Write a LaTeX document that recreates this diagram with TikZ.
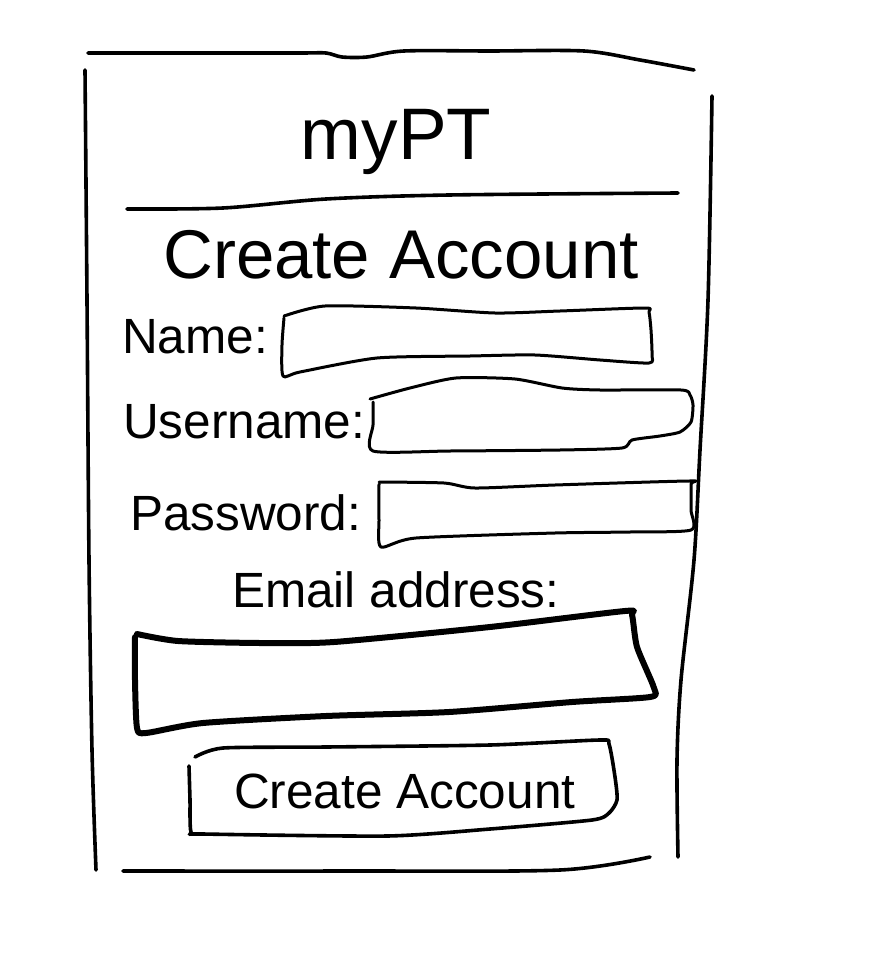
\documentclass[tikz,border=0pt]{standalone}
\usepackage{fontspec}
\setmainfont{Liberation Sans}
\begin{document}
\begin{tikzpicture}[x=1pt,y=-1pt,
  ink/.style={draw=black,line cap=round,line join=round},
  framel/.style={ink,line width=3.6pt},
  fieldl/.style={ink,line width=3pt},
  thickl/.style={ink,line width=6pt},
  btnl/.style={ink,line width=3.6pt},
  lbl/.style={anchor=base west,inner sep=0pt,font=\fontsize{49.5}{52}\selectfont},
  ttl/.style={anchor=base,inner sep=0pt}]
\useasboundingbox (0,0) rectangle (888,976);
% outer frame
\draw[framel] plot[smooth,tension=0.5] coordinates {(88,53) (200,53) (300,53) (326,53) (342,57) (367,57) (404,51) (490,51) (584,51) (640,60) (694,70)};
\draw[framel] plot[smooth,tension=0.5] coordinates {(85,70) (87,300) (89,560) (92,750) (96,870)};
\draw[framel] plot[smooth,tension=0.5] coordinates {(712,96) (708,300) (700,450) (694,560) (681,680) (677,760) (678,857)};
\draw[framel] plot[smooth,tension=0.5] coordinates {(123,871) (350,871) (560,870) (650,857)};
% divider
\draw[framel] plot[smooth,tension=0.5] coordinates {(127,209) (223,208) (326,199) (449,195) (678,193)};
% titles
\node[ttl,font=\fontsize{73}{76}\selectfont] (app) at (396,160) {myPT};
\node[ttl,font=\fontsize{69}{72}\selectfont] (title) at (401,278) {Create Account};
% labels
\node[lbl] (name) at (122,353) {Name:};
\node[lbl] (user) at (123,438) {Username:};
\node[lbl] (pass) at (130,530) {Password:};
\node[lbl] (mail) at (232,607) {Email address:};
% name field
\draw[fieldl] plot[smooth,tension=0.4] coordinates {(284,318) (282,345) (283,376) (300,372) (377,358) (470,356) (535,355) (600,360) (649,363) (652,355) (651,330) (649,312) (645,308) (560,311) (495,313) (416,308) (325,306) (284,316)};
% username field
\draw[fieldl] plot[smooth,tension=0.4] coordinates {(370,399) (410,388) (456,378) (515,379) (562,388) (600,390) (681,390) (690,395) (693,405) (691,422) (680,432) (660,436) (632,440) (622,448) (560,450) (450,451) (373,451) (373,425) (373,402)};
% password field
\draw[fieldl] plot[smooth,tension=0.4] coordinates {(379,482) (444,483) (475,488) (555,485) (689,481) (691,484) (691,510) (691,530) (630,532) (555,533) (416,538) (381,547) (379,520) (379,484)};
% email field
\draw[thickl] plot[smooth,tension=0.4] coordinates {(137,634) (178,641) (260,643) (334,642) (490,627) (625,611) (632,615) (637,647) (654,688) (650,697) (572,702) (449,712) (326,716) (203,723) (146,733) (137,728) (135,680) (135,637)};
% button
\draw[btnl] plot[smooth,tension=0.4] coordinates {(195,757) (223,748) (326,747) (490,745) (600,740) (609,744) (615,777) (617,800) (609,813) (592,820) (490,829) (387,836) (203,834) (191,832) (190,800) (189,766)};
\node[lbl] (btn) at (234,808) {Create Account};
\end{tikzpicture}
\end{document}
